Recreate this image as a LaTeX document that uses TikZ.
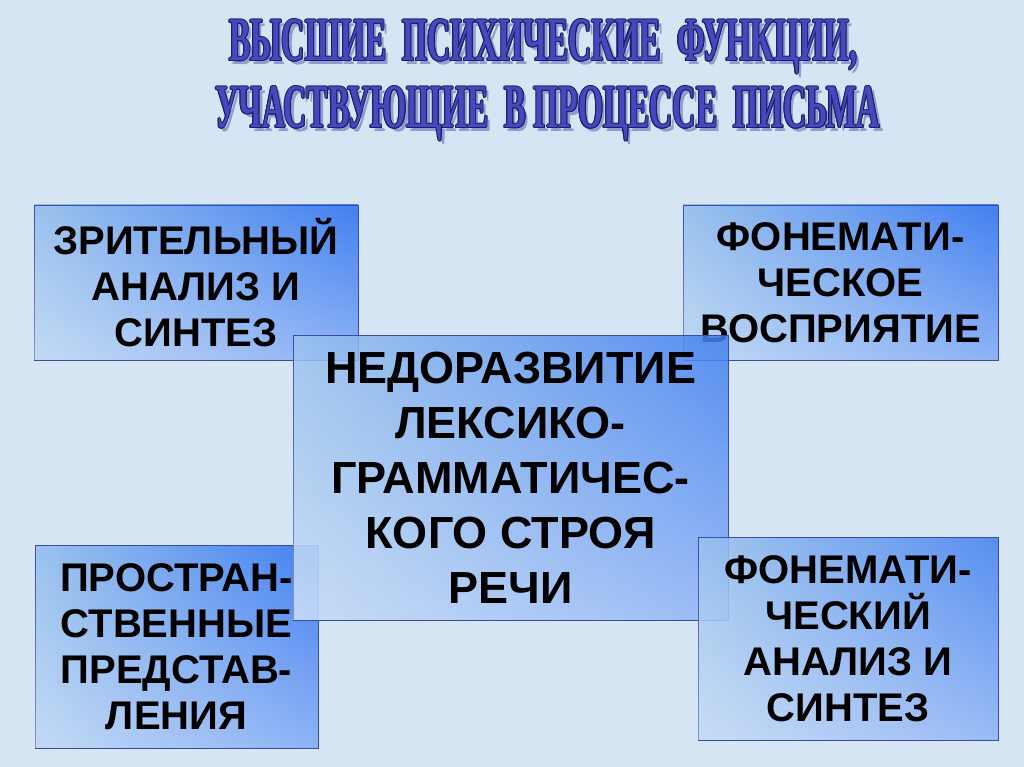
\documentclass[tikz,border=0pt]{standalone}
\usepackage{fontspec}
\setmainfont{Liberation Sans}
\newfontfamily\ttlfont{Liberation Serif}
\usetikzlibrary{fadings}
\definecolor{bg}{RGB}{214,229,243}
\definecolor{boxleft}{RGB}{155,194,238}
\definecolor{boxright}{RGB}{66,128,240}
\definecolor{boxline}{RGB}{60,75,170}
\definecolor{ttlfill}{RGB}{72,72,190}
\definecolor{ttlline}{RGB}{28,28,105}
\definecolor{ttlshadow}{RGB}{145,155,205}
\newcommand\waword[1]{%
  \rlap{\hspace*{3.5pt}\raisebox{-3.5pt}{\color{ttlshadow}#1}}%
  \rlap{\hspace*{1pt}\color{ttlline}#1}%
  \rlap{\hspace*{-1pt}\color{ttlline}#1}%
  \rlap{\raisebox{1pt}{\color{ttlline}#1}}%
  \rlap{\raisebox{-1pt}{\color{ttlline}#1}}%
  \rlap{\hspace*{0.7pt}\raisebox{0.7pt}{\color{ttlline}#1}}%
  \rlap{\hspace*{-0.7pt}\raisebox{-0.7pt}{\color{ttlline}#1}}%
  \rlap{\hspace*{0.7pt}\raisebox{-0.7pt}{\color{ttlline}#1}}%
  \rlap{\hspace*{-0.7pt}\raisebox{0.7pt}{\color{ttlline}#1}}%
  {\color{ttlfill}#1}}
\tikzset{
  box/.style={draw=boxline, line width=0.9pt, left color=boxleft, right color=boxright,
    postaction={shade=false, draw=none, fill=white, fill opacity=0.4, path fading=north},
    inner sep=0pt, align=center, text=black,
    font=\bfseries\fontsize{40}{46}\selectfont},
  bigbox/.style={box, font=\bfseries\fontsize{45}{55}\selectfont},
  seethru/.style={fill opacity=0.85, text opacity=1, draw opacity=1},
  ttl/.style={inner sep=0pt, anchor=base, font=\ttlfont\bfseries\fontsize{62}{62}\selectfont}
}
\begin{document}
\begin{tikzpicture}[x=1pt,y=-1pt]
\useasboundingbox (0,0) rectangle (1024,767);
\fill[bg] (0,0) rectangle (1024,767);
% title
\node[ttl] (t1) at (543,61) {\waword{\resizebox{628pt}{\height}{ВЫСШИЕ\ \ ПСИХИЧЕСКИЕ\ \ ФУНКЦИИ,}}};
\node[ttl] (t2) at (547.5,128) {\waword{\resizebox{665pt}{\height}{УЧАСТВУЮЩИЕ\ \ В ПРОЦЕССЕ\ \ ПИСЬМА}}};
% boxes
\node[box, minimum width=324pt, minimum height=155pt] (tl) at (196,282.5) {ЗРИТЕЛЬНЫЙ\\АНАЛИЗ И\\СИНТЕЗ};
\node[box, minimum width=315pt, minimum height=155pt] (tr) at (840.5,282.5) {\raisebox{-5pt}{\parbox{315pt}{\centering ФОНЕМАТИ-\\ЧЕСКОЕ\\ВОСПРИЯТИЕ}}};
\node[box, minimum width=283pt, minimum height=203pt] (bl) at (176.5,646.5) {ПРОСТРАН-\\СТВЕННЫЕ\\ПРЕДСТАВ-\\ЛЕНИЯ};
\node[bigbox, seethru, minimum width=435pt, minimum height=285pt] (c) at (510.5,477.5) {НЕДОРАЗВИТИЕ\\ЛЕКСИКО-\\ГРАММАТИЧЕС-\\КОГО СТРОЯ\\РЕЧИ};
\node[box, seethru, minimum width=300pt, minimum height=203pt] (br) at (848,638.5) {ФОНЕМАТИ-\\ЧЕСКИЙ\\АНАЛИЗ И\\СИНТЕЗ};
\end{tikzpicture}
\end{document}
